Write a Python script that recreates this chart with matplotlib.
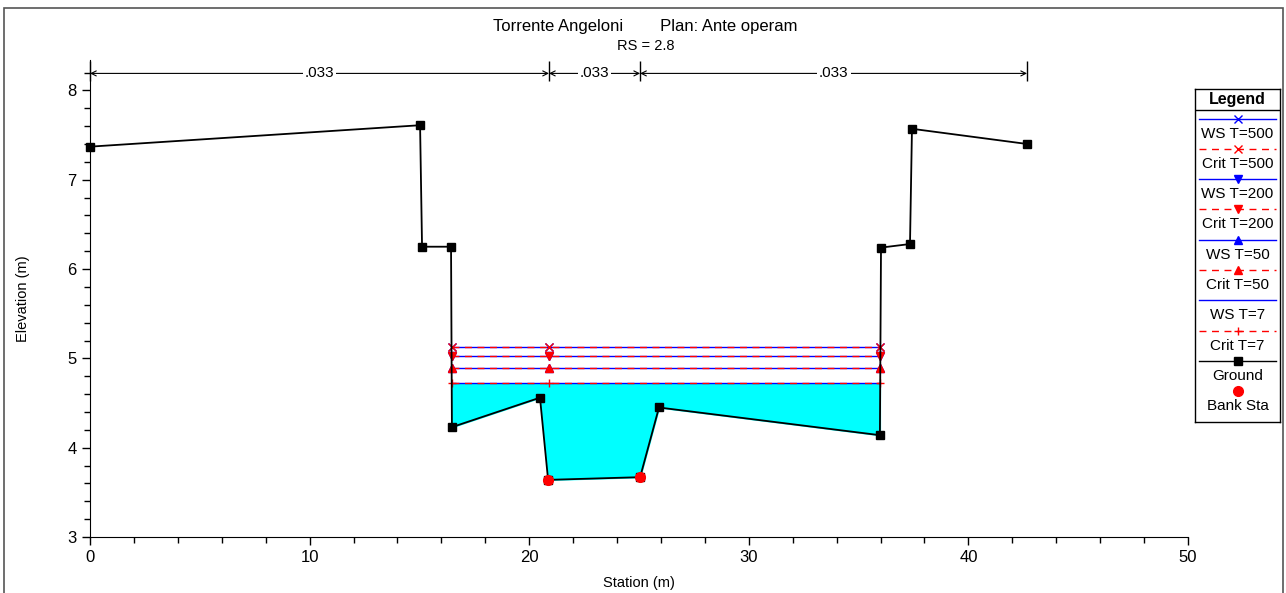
import matplotlib.pyplot as plt
from matplotlib.patches import Rectangle
import numpy as np

plt.rcParams['font.family'] = ['Liberation Sans', 'DejaVu Sans']

# Ground profile (station, elevation)
gr_sta = [0.0, 15.03, 15.12, 16.44, 16.48, 20.49, 20.86, 25.05, 25.91, 35.97, 36.02, 37.34, 37.43, 42.67]
gr_elev = [7.37, 7.61, 6.25, 6.25, 4.23, 4.56, 3.64, 3.67, 4.45, 4.14, 6.24, 6.28, 7.57, 7.40]

# Bank stations
bank_sta = [20.86, 25.05]
bank_elev = [3.64, 3.67]

# Water surface profiles
profiles = ['T=500', 'T=200', 'T=50', 'T=7']
ws_elev = [5.13, 5.03, 4.89, 4.72]
crit_elev = [5.13, 5.03, 4.89, 4.72]
ws_markers = ['x', 'v', '^', None]
crit_markers = ['x', 'v', '^', '+']
ws_left, ws_right = 16.47, 35.99
ws_mark_sta = [16.47, 20.9, 35.99]

# Manning's n
n_bounds = [0.0, 20.9, 25.05, 42.67]
n_values = ['.033', '.033', '.033']

fig = plt.figure(figsize=(12.86, 5.93), dpi=100)
ax = fig.add_axes([0.07, 0.0944, 0.8538, 0.8044])

# water fill for lowest profile
ax.fill_between(gr_sta[4:10], gr_elev[4:10], ws_elev[-1], color='#00ffff', zorder=1)

for i in range(len(profiles)):
    ax.plot([ws_left, ws_right], [ws_elev[i], ws_elev[i]], color='blue', lw=1.0, zorder=2)
    if ws_markers[i]:
        ax.plot(ws_mark_sta, [ws_elev[i]] * 3, ls='none', marker=ws_markers[i],
                color='blue', ms=6, zorder=2)
    ax.plot([ws_left, ws_right], [crit_elev[i], crit_elev[i]], color='red', lw=1.0,
            ls=(0, (5, 4)), zorder=3)
    ax.plot(ws_mark_sta, [crit_elev[i]] * 3, ls='none', marker=crit_markers[i],
            color='red', ms=6, zorder=3)

ax.plot(gr_sta, gr_elev, color='black', lw=1.3, marker='s', ms=6, zorder=4, clip_on=False)
ax.plot(bank_sta, bank_elev, ls='none', marker='o', color='red', ms=7, zorder=5)

# Manning n annotations
ny = 8.19
for x0, x1, lab in zip(n_bounds[:-1], n_bounds[1:], n_values):
    ax.annotate('', xy=(x1, ny), xytext=(x0, ny), annotation_clip=False,
                arrowprops=dict(arrowstyle='<->', lw=0.8, color='black',
                                shrinkA=0, shrinkB=0, mutation_scale=9))
    ax.text((x0 + x1) / 2, ny, lab, ha='center', va='center', fontsize=11,
            bbox=dict(facecolor='white', edgecolor='none', pad=1.5), zorder=6)
ax.vlines(n_bounds, 8.11, 8.33, color='black', lw=1.0, clip_on=False)

ax.set_xlim(0, 50)
ax.set_ylim(3, 8.34)
ax.set_xticks(np.arange(0, 51, 10))
ax.set_xticks(np.arange(0, 51, 2), minor=True)
ax.set_yticks(np.arange(3, 9, 1))
ax.set_yticks(np.arange(3, 8.3, 0.2), minor=True)
ax.tick_params(labelsize=12, length=6, width=1, direction='out')
ax.tick_params(which='minor', length=4, width=1)
ax.spines['top'].set_visible(False)
ax.spines['right'].set_visible(False)
ax.set_xlabel('Station (m)', fontsize=10.5, labelpad=8)
ax.set_ylabel('Elevation (m)', fontsize=10.5, labelpad=27)

fig.text(0.502, 0.956, 'Torrente Angeloni        Plan: Ante operam', ha='center',
         va='center', fontsize=12)
fig.text(0.502, 0.922, 'RS = 2.8', ha='center', va='center', fontsize=10.5)

# figure frame
fig.patches.append(Rectangle((0.003, -0.01), 0.995, 1 - 8 / 593 + 0.01,
                             transform=fig.transFigure, fill=False,
                             edgecolor='#555555', lw=1.2))

# legend box (pixel coordinates inside a small axes)
lg = fig.add_axes([1195 / 1286, 1 - 422 / 593, 85 / 1286, 333 / 593])
lg.set_xlim(0, 85)
lg.set_ylim(333, 0)
lg.set_xticks([])
lg.set_yticks([])
for s in lg.spines.values():
    s.set_linewidth(1.0)
lg.axhline(21, color='black', lw=1.0)
lg.text(42.5, 10.5, 'Legend', ha='center', va='center', fontsize=11.5, fontweight='bold')

entries = []
for i, p in enumerate(profiles):
    entries.append(('WS ' + p, 'blue', '-', ws_markers[i]))
    entries.append(('Crit ' + p, 'red', (0, (5, 4)), crit_markers[i]))
entries.append(('Ground', 'black', '-', 's'))
entries.append(('Bank Sta', 'red', 'none', 'o'))

y0, dy = 29.5, 30.3
for k, (lab, col, ls, mk) in enumerate(entries):
    yl = y0 + k * dy
    lg.plot([4, 81], [yl, yl], color=col, ls=ls, lw=1.0)
    if mk:
        lg.plot([42.5], [yl], marker=mk, color=col, ms=6 if mk != 'o' else 7, ls='none')
    lg.text(42.5, yl + 15, lab, ha='center', va='center', fontsize=11)

fig.savefig('out.png', dpi=100)
